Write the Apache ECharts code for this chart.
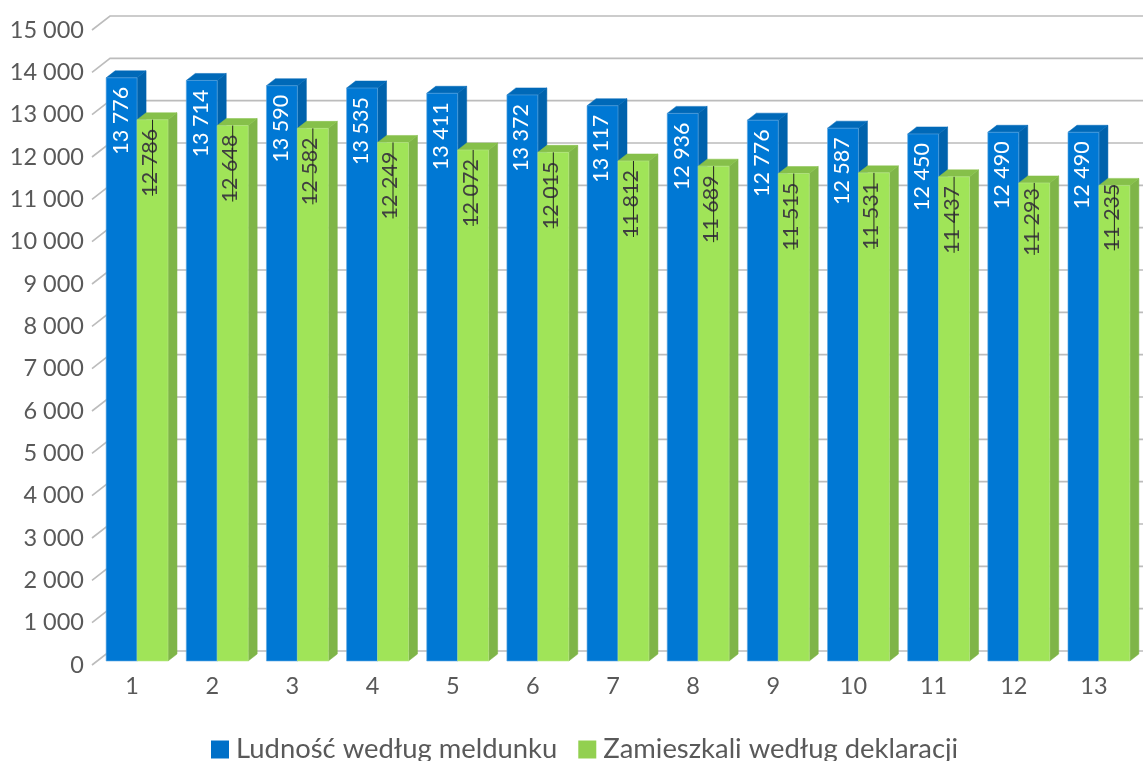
<!DOCTYPE html>
<html>
<head>
<meta charset="utf-8">
<style>
  html, body { margin: 0; padding: 0; background: #fff; }
  #chart { width: 1143px; height: 761px; }
</style>
<script src="https://cdn.jsdelivr.net/npm/echarts@6/dist/echarts.min.js"></script>
</head>
<body>
<div id="chart"></div>
<script>
var categories = ["1", "2", "3", "4", "5", "6", "7", "8", "9", "10", "11", "12", "13"];
var ludnosc = [13776, 13714, 13590, 13535, 13411, 13372, 13117, 12936, 12776, 12587, 12450, 12490, 12490];
var zamieszkali = [12786, 12648, 12582, 12249, 12072, 12015, 11812, 11689, 11515, 11531, 11437, 11293, 11235];
var yTicks = [0, 1000, 2000, 3000, 4000, 5000, 6000, 7000, 8000, 9000, 10000, 11000, 12000, 13000, 14000, 15000];

var FONT = "Lato";
var TEXT_COLOR = "#595959";

function fmt(v) {
  return String(v).replace(/\B(?=(\d{3})+$)/g, " ");
}

// pseudo-3D bar: front face + top + right side, slot 0 = left of the category, 1 = right
function barRenderer(slot, colors, labelColor, strike) {
  return function (params, api) {
    var w = api.size([1, 0])[0] * 0.386;
    var base = api.coord([api.value(0), 0]);
    var top = api.coord([api.value(0), api.value(1)]);
    var x0 = base[0] + 5 + (slot === 0 ? -w : 0);
    var x1 = x0 + w;
    var yb = base[1] - 4;
    var yt = top[1] - 4;
    var dx = 9, dy = 7;
    var mid = (x0 + x1) / 2;
    var cx = mid - (strike ? 2.5 : 1);
    var cy = yt + 43;
    // the last two green labels sit higher in the reference
    if (strike && params.dataIndex === 12) cy = yt + 32;
    if (strike && params.dataIndex === 11) cy = yt + 39;
    var children = [
      { type: "polygon", shape: { points: [[x1, yt], [x1 + dx, yt - dy], [x1 + dx, yb - dy], [x1, yb]] },
        style: { fill: colors.side, stroke: colors.side, lineWidth: 0.5 } },
      { type: "polygon", shape: { points: [[x0, yt], [x0 + dx, yt - dy], [x1 + dx, yt - dy], [x1, yt]] },
        style: { fill: colors.top, stroke: colors.top, lineWidth: 0.5 } },
      { type: "rect", shape: { x: x0, y: yt, width: w, height: yb - yt },
        style: { fill: colors.front, stroke: colors.edge, lineWidth: 0.6 } },
      { type: "text", x: cx, y: cy, rotation: Math.PI / 2,
        style: { text: fmt(api.value(1)), font: "21.5px " + FONT, fill: labelColor, align: "center", verticalAlign: "middle" } }
    ];
    if (strike) {
      children.push({ type: "line", shape: { x1: mid, y1: yt, x2: mid, y2: cy + 33 },
        style: { stroke: "#222", lineWidth: 1 } });
    }
    return { type: "group", children: children };
  };
}

// back wall lines and the slanted stubs on the left side
function wallRenderer(params, api) {
  var p = api.coord([0, api.value(1)]);
  var left = params.coordSys.x;
  return {
    type: "polyline",
    shape: { points: [[left, p[1]], [left + 18, p[1] - 14], [api.getWidth(), p[1] - 14]] },
    style: { fill: "none", stroke: "#bcbcbc", lineWidth: 1.6 }
  };
}

var chart = echarts.init(document.getElementById("chart"));
chart.setOption({
  animation: false,
  backgroundColor: "#fff",
  textStyle: { fontFamily: FONT },
  grid: { left: 92, right: 9, top: 30, bottom: 96, containLabel: false },
  legend: {
    data: ["Ludność według meldunku", "Zamieszkali według deklaracji"],
    left: 206,
    top: 731,
    itemWidth: 18,
    itemHeight: 18,
    itemGap: 21,
    icon: "rect",
    textStyle: { color: TEXT_COLOR, fontSize: 27.4, fontFamily: FONT, padding: [0, 0, 0, 2] }
  },
  xAxis: {
    type: "category",
    data: categories,
    axisLine: { show: false },
    axisTick: { show: false },
    axisLabel: { color: TEXT_COLOR, fontSize: 23.5, margin: 9 }
  },
  yAxis: {
    type: "value",
    min: 0,
    max: 15000,
    interval: 1000,
    splitLine: { show: false },
    axisLine: { show: false },
    axisTick: { show: false },
    axisLabel: {
      color: TEXT_COLOR, fontSize: 23.5, margin: 8, padding: [0, 0, 4, 0],
      formatter: function (v) { return fmt(v); }
    }
  },
  series: [
    {
      name: "wall", type: "custom", silent: true, clip: false, z: 1,
      data: yTicks.map(function (v) { return [0, v]; }),
      encode: { x: 0, y: 1 },
      renderItem: wallRenderer
    },
    {
      name: "Ludność według meldunku", type: "custom", clip: false, z: 2,
      itemStyle: { color: "#0070c8" },
      data: ludnosc.map(function (v, i) { return [i, v]; }),
      encode: { x: 0, y: 1 },
      renderItem: barRenderer(0, { front: "#0078d4", side: "#0062ac", top: "#0069b8", edge: "#5fa8e0" }, "#fff", false)
    },
    {
      name: "Zamieszkali według deklaracji", type: "custom", clip: false, z: 3,
      itemStyle: { color: "#92d050" },
      data: zamieszkali.map(function (v, i) { return [i, v]; }),
      encode: { x: 0, y: 1 },
      renderItem: barRenderer(1, { front: "#a0e458", side: "#7fb548", top: "#86c04a", edge: "#b9e58a" }, "#404040", true)
    }
  ]
});
</script>
</body>
</html>
